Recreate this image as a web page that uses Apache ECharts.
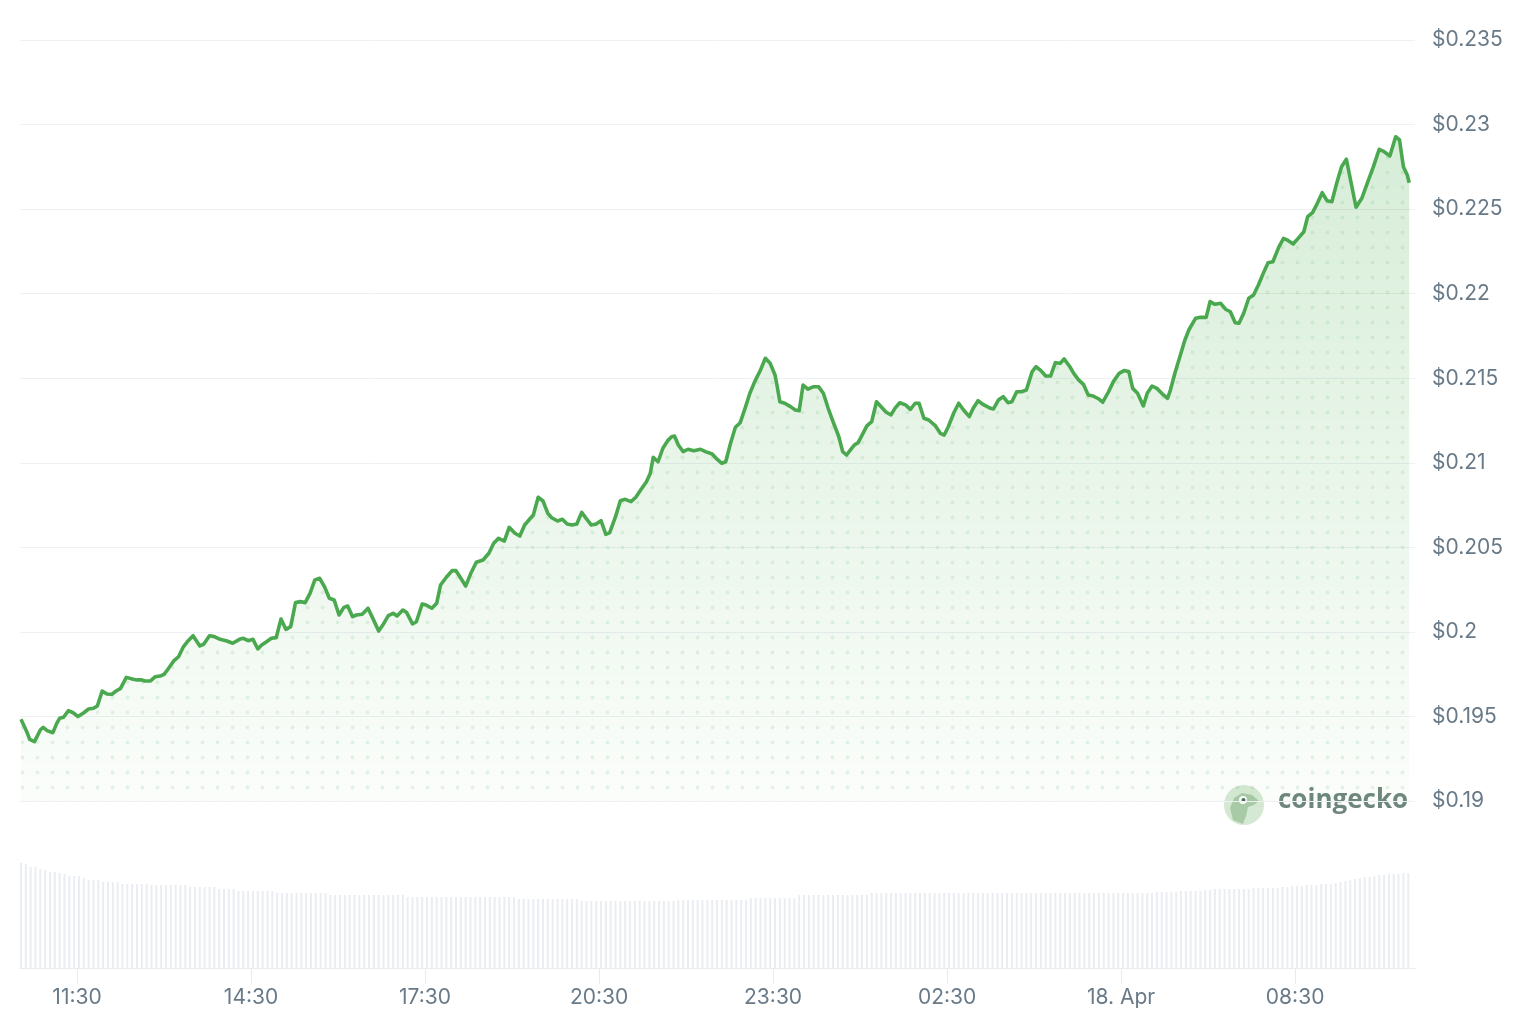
<!DOCTYPE html>
<html>
<head>
<meta charset="utf-8">
<title>Price chart</title>
<script src="https://cdn.jsdelivr.net/npm/echarts@6/dist/echarts.min.js"></script>
<style>
  html, body { margin: 0; padding: 0; background: #fff; }
  #chart { width: 1536px; height: 1009px; }
</style>
</head>
<body>
<div id="chart"></div>
<script>
// minutes after 00:00 on 17 Apr
const minutes = [
  632, 638, 641, 646, 652, 655, 659, 665, 669, 672,
  676, 681, 686, 691, 697, 702, 707, 711, 716, 721,
  726, 730, 735, 741, 748, 752, 757, 760, 766, 771,
  776, 780, 784, 790, 795, 800, 805, 810, 817, 821,
  827, 832, 838, 845, 851, 858, 862, 867, 872, 877,
  881, 886, 891, 896, 901, 906, 911, 916, 921, 926,
  931, 936, 941, 946, 951, 956, 961, 966, 970, 975,
  979, 985, 991, 996, 1002, 1007, 1012, 1017, 1021, 1027,
  1031, 1037, 1041, 1047, 1051, 1057, 1062, 1066, 1072, 1078,
  1082, 1087, 1092, 1097, 1103, 1110, 1116, 1121, 1126, 1132,
  1137, 1143, 1148, 1153, 1159, 1162, 1167, 1172, 1177, 1181,
  1187, 1192, 1197, 1202, 1207, 1212, 1217, 1222, 1227, 1232,
  1237, 1241, 1247, 1252, 1257, 1263, 1268, 1273, 1279, 1283,
  1286, 1291, 1296, 1301, 1305, 1308, 1312, 1317, 1322, 1328,
  1335, 1340, 1347, 1352, 1357, 1361, 1366, 1371, 1376, 1381,
  1386, 1391, 1397, 1402, 1407, 1412, 1414, 1417, 1422, 1428,
  1433, 1437, 1441, 1446, 1452, 1457, 1462, 1467, 1472, 1478,
  1482, 1486, 1490, 1494, 1498, 1503, 1507, 1512, 1517, 1521,
  1527, 1532, 1536, 1541, 1547, 1552, 1557, 1561, 1566, 1571,
  1578, 1583, 1587, 1591, 1597, 1602, 1607, 1613, 1617, 1622,
  1628, 1635, 1638, 1643, 1648, 1653, 1657, 1662, 1667, 1672,
  1678, 1682, 1687, 1692, 1697, 1702, 1707, 1711, 1717, 1721,
  1726, 1731, 1736, 1741, 1747, 1751, 1757, 1762, 1768, 1773,
  1778, 1782, 1787, 1793, 1797, 1802, 1807, 1812, 1818, 1821,
  1826, 1831, 1836, 1840, 1847, 1852, 1858, 1862, 1867, 1873,
  1878, 1883, 1888, 1892, 1897, 1902, 1907, 1912, 1917, 1922,
  1927, 1933, 1938, 1943, 1948, 1954, 1959, 1963, 1968, 1973,
  1978, 1983, 1988, 1993, 1998, 2003, 2008, 2013, 2019, 2024,
  2031, 2037, 2042, 2048, 2054, 2058, 2062, 2066, 2068
]

// price in USD
const prices = [
  0.19483, 0.19410, 0.19365, 0.19351, 0.19420, 0.19436, 0.19416, 0.19404, 0.19459, 0.19489,
  0.19495, 0.19534, 0.19522, 0.19499, 0.19522, 0.19544, 0.19548, 0.19562, 0.19650, 0.19633,
  0.19631, 0.19649, 0.19666, 0.19731, 0.19720, 0.19716, 0.19716, 0.19710, 0.19710, 0.19735,
  0.19739, 0.19749, 0.19779, 0.19828, 0.19853, 0.19912, 0.19948, 0.19977, 0.19917, 0.19927,
  0.19977, 0.19972, 0.19956, 0.19946, 0.19933, 0.19956, 0.19962, 0.19948, 0.19956, 0.19899,
  0.19922, 0.19942, 0.19962, 0.19966, 0.20076, 0.20015, 0.20031, 0.20173, 0.20179, 0.20173,
  0.20228, 0.20307, 0.20317, 0.20267, 0.20199, 0.20189, 0.20100, 0.20145, 0.20153, 0.20090,
  0.20100, 0.20104, 0.20140, 0.20080, 0.20005, 0.20047, 0.20096, 0.20110, 0.20094, 0.20129,
  0.20114, 0.20047, 0.20060, 0.20165, 0.20159, 0.20140, 0.20169, 0.20277, 0.20323, 0.20362,
  0.20362, 0.20317, 0.20271, 0.20342, 0.20412, 0.20425, 0.20465, 0.20524, 0.20553, 0.20537,
  0.20618, 0.20583, 0.20567, 0.20632, 0.20672, 0.20691, 0.20796, 0.20774, 0.20701, 0.20675,
  0.20656, 0.20666, 0.20638, 0.20632, 0.20638, 0.20707, 0.20668, 0.20632, 0.20638, 0.20658,
  0.20577, 0.20587, 0.20681, 0.20776, 0.20784, 0.20770, 0.20796, 0.20839, 0.20888, 0.20938,
  0.21032, 0.21006, 0.21086, 0.21131, 0.21154, 0.21158, 0.21105, 0.21066, 0.21080, 0.21071,
  0.21080, 0.21066, 0.21052, 0.21021, 0.20997, 0.21006, 0.21115, 0.21210, 0.21237, 0.21322,
  0.21411, 0.21480, 0.21549, 0.21618, 0.21588, 0.21519, 0.21460, 0.21361, 0.21352, 0.21332,
  0.21312, 0.21308, 0.21460, 0.21435, 0.21450, 0.21450, 0.21411, 0.21322, 0.21243, 0.21154,
  0.21066, 0.21046, 0.21076, 0.21105, 0.21119, 0.21174, 0.21218, 0.21243, 0.21361, 0.21336,
  0.21299, 0.21283, 0.21322, 0.21355, 0.21342, 0.21316, 0.21352, 0.21352, 0.21263, 0.21253,
  0.21218, 0.21174, 0.21164, 0.21210, 0.21296, 0.21352, 0.21312, 0.21273, 0.21322, 0.21367,
  0.21342, 0.21322, 0.21318, 0.21371, 0.21391, 0.21355, 0.21361, 0.21420, 0.21420, 0.21430,
  0.21539, 0.21568, 0.21545, 0.21513, 0.21513, 0.21592, 0.21588, 0.21614, 0.21568, 0.21529,
  0.21490, 0.21464, 0.21401, 0.21395, 0.21377, 0.21358, 0.21420, 0.21480, 0.21529, 0.21545,
  0.21539, 0.21440, 0.21411, 0.21336, 0.21411, 0.21454, 0.21440, 0.21411, 0.21381, 0.21430,
  0.21537, 0.21631, 0.21726, 0.21785, 0.21854, 0.21860, 0.21860, 0.21953, 0.21937, 0.21943,
  0.21908, 0.21893, 0.21828, 0.21825, 0.21887, 0.21973, 0.21992, 0.22051, 0.22120, 0.22183,
  0.22189, 0.22274, 0.22327, 0.22313, 0.22294, 0.22333, 0.22366, 0.22455, 0.22479, 0.22534,
  0.22597, 0.22550, 0.22544, 0.22653, 0.22751, 0.22795, 0.22653, 0.22511, 0.22564, 0.22643,
  0.22751, 0.22854, 0.22840, 0.22814, 0.22928, 0.22909, 0.22751, 0.22702, 0.22656
]

// 5-minute volume bars (relative units), first bar at 10:32
const volStart = 632
const volStep = 5
const volumes = [
  105, 104, 101, 101, 99, 98, 96, 96, 95, 94,
  92, 92, 92, 90, 88, 88, 88, 86, 86, 86,
  86, 84, 84, 84, 84, 84, 84, 83, 83, 83,
  83, 83, 83, 83, 83, 81, 81, 81, 81, 81,
  81, 79, 79, 79, 79, 77, 77, 77, 77, 77,
  77, 77, 77, 75, 75, 75, 75, 75, 75, 75,
  75, 75, 75, 75, 73, 73, 73, 73, 73, 73,
  73, 73, 73, 73, 73, 73, 73, 73, 73, 73,
  71, 71, 71, 71, 71, 71, 71, 71, 71, 71,
  71, 71, 71, 71, 71, 71, 71, 71, 71, 71,
  71, 71, 71, 69, 69, 69, 69, 69, 69, 69,
  69, 69, 69, 69, 69, 69, 67, 67, 67, 67,
  67, 67, 67, 67, 67, 67, 67, 67, 67, 67,
  67, 67, 67, 67, 67, 67, 68, 68, 68, 68,
  68, 68, 68, 68, 68, 68, 68, 68, 68, 68,
  68, 70, 70, 70, 70, 70, 70, 70, 70, 70,
  70, 73, 73, 73, 73, 73, 73, 73, 73, 73,
  73, 73, 73, 73, 73, 73, 75, 75, 75, 75,
  75, 75, 75, 75, 75, 75, 75, 75, 75, 75,
  75, 75, 75, 75, 75, 75, 75, 75, 75, 75,
  75, 75, 75, 75, 75, 75, 75, 75, 75, 75,
  75, 75, 75, 75, 75, 75, 75, 75, 75, 75,
  75, 75, 75, 75, 75, 75, 75, 75, 75, 75,
  75, 75, 75, 75, 75, 76, 76, 76, 76, 76,
  77, 77, 77, 77, 77, 78, 78, 79, 79, 79,
  79, 79, 79, 79, 79, 80, 80, 80, 80, 80,
  80, 81, 81, 82, 82, 82, 83, 83, 83, 84,
  84, 84, 85, 86, 87, 88, 89, 90, 91, 91,
  92, 93, 93, 94, 94, 94, 95, 95
]

// x axis labels
const tickMinutes = [690, 870, 1050, 1230, 1410, 1590, 1770, 1950]
const tickLabels = ['11:30', '14:30', '17:30', '20:30', '23:30', '02:30', '18. Apr', '08:30']

const textColor = '#687a88'
const gridColor = '#eef0f3'

const priceData = minutes.map((m, i) => [m, prices[i]])
const volData = volumes.map((v, i) => [volStart + i * volStep, v])

// small dot tile for the area pattern
const dotTile = document.createElement('canvas')
dotTile.width = 15
dotTile.height = 15
const ctx = dotTile.getContext('2d')
ctx.fillStyle = 'rgba(76, 175, 80, 0.2)'
ctx.beginPath()
ctx.arc(7.5, 7.5, 1.9, 0, Math.PI * 2)
ctx.fill()

const chart = echarts.init(document.getElementById('chart'))

const option = {
  animation: false,
  grid: [
    { left: 20, right: 121, top: 40, bottom: 208 },
    { left: 20, right: 121, top: 858, bottom: 41 }
  ],
  xAxis: [
    { type: 'value', gridIndex: 0, min: 631, max: 2074, show: false },
    {
      type: 'value',
      gridIndex: 1,
      min: 631,
      max: 2074,
      splitLine: { show: false },
      axisLine: { lineStyle: { color: '#e8ebef', width: 1 } },
      axisTick: { customValues: tickMinutes, length: 16, lineStyle: { color: '#e8ebef' } },
      axisLabel: {
        customValues: tickMinutes,
        formatter: (v) => tickLabels[tickMinutes.indexOf(v)] || '',
        color: textColor,
        fontSize: 21,
        fontFamily: 'Inter',
        margin: 19
      }
    }
  ],
  yAxis: [
    {
      type: 'value',
      gridIndex: 0,
      position: 'right',
      min: 0.19,
      max: 0.235,
      interval: 0.005,
      axisLine: { show: false },
      axisTick: { show: false },
      splitLine: { lineStyle: { color: gridColor, width: 1 } },
      axisLabel: {
        formatter: (v) => '$' + parseFloat(v.toFixed(3)),
        color: textColor,
        fontSize: 21,
        fontFamily: 'Inter',
        margin: 17,
        padding: [3, 0, 0, 0]
      }
    },
    { type: 'value', gridIndex: 1, min: 0, max: 110, show: false }
  ],
  graphic: [
    {
      type: 'group',
      left: 1224,
      top: 785,
      children: [
        { type: 'circle', shape: { cx: 20, cy: 20, r: 20 }, style: { fill: '#d5e8d3' } },
        {
          type: 'polygon',
          shape: { points: [[9, 35], [6, 23], [10, 13], [18, 8], [28, 10], [35, 16], [30, 20], [24, 22], [22, 31], [19, 39]] },
          style: { fill: '#a8caa6' }
        },
        { type: 'circle', shape: { cx: 19, cy: 15, r: 4 }, style: { fill: '#ffffff' } },
        { type: 'circle', shape: { cx: 19.5, cy: 15, r: 2 }, style: { fill: '#4f6b58' } }
      ]
    },
    {
      type: 'text',
      left: 1278,
      top: 788,
      style: {
        text: 'coingecko',
        fill: '#6e877c',
        font: 'bold 26px "Open Sans", sans-serif'
      }
    }
  ],
  series: [
    {
      name: 'pattern',
      type: 'line',
      xAxisIndex: 0,
      yAxisIndex: 0,
      data: priceData,
      showSymbol: false,
      silent: true,
      lineStyle: { width: 0, opacity: 0 },
      areaStyle: { color: { image: dotTile, repeat: 'repeat' } },
      z: 1
    },
    {
      name: 'Price',
      type: 'line',
      xAxisIndex: 0,
      yAxisIndex: 0,
      data: priceData,
      showSymbol: false,
      lineStyle: { color: '#4aa84f', width: 3.6, join: 'round' },
      areaStyle: {
        color: new echarts.graphic.LinearGradient(0, 0, 0, 1, [
          { offset: 0, color: 'rgba(76, 175, 80, 0.32)' },
          { offset: 0.6, color: 'rgba(76, 175, 80, 0.15)' },
          { offset: 1, color: 'rgba(76, 175, 80, 0.03)' }
        ])
      },
      z: 3
    },
    {
      name: 'Volume',
      type: 'bar',
      xAxisIndex: 1,
      yAxisIndex: 1,
      data: volData,
      barWidth: 2,
      itemStyle: { color: '#eaedf1' },
      silent: true
    }
  ]
}

chart.setOption(option)
</script>
</body>
</html>
